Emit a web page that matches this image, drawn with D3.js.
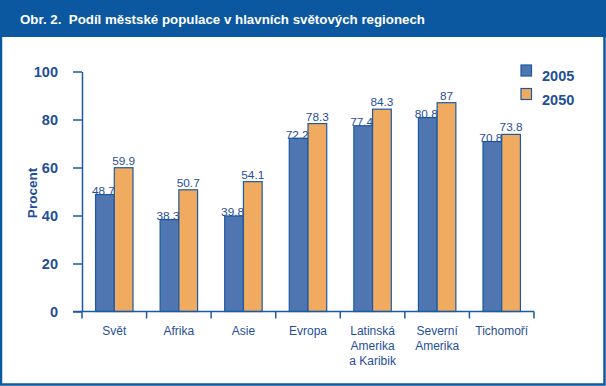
<!DOCTYPE html>
<meta charset="utf-8">
<title>Podíl městské populace</title>
<style>
html, body {
  margin: 0;
  padding: 0;
  width: 606px;
  height: 386px;
  background: #fff;
}
svg {
  display: block;
  font-family: "Liberation Sans", Arial, sans-serif;
}
.axis path, .axis line {
  stroke: #1b5aa0;
  stroke-width: 1.5;
}
.axis text {
  fill: #1f4e9a;
}
</style>
<body>
<svg width="606" height="386"></svg>
<script src="https://cdn.jsdelivr.net/npm/d3@7"></script>
<script>

var regions = ["Svět", "Afrika", "Asie", "Evropa", "Latinská|Amerika|a Karibik", "Severní|Amerika", "Tichomoří"];
var years = ["2005", "2050"];
var values2005 = [48.7, 38.3, 39.8, 72.2, 77.4, 80.8, 70.8];
var values2050 = [59.9, 50.7, 54.1, 78.3, 84.3, 87, 73.8];
var yTicks = [0, 20, 40, 60, 80, 100];

var colors = { "2005": "#4f76b0", "2050": "#f0ab60" };
var textBlue = "#1f4e9a";

var svg = d3.select("svg");

// frame + header band
svg.append("rect")
    .attr("x", 1).attr("y", 1)
    .attr("width", 603.5).attr("height", 383.5)
    .attr("fill", "none")
    .attr("stroke", "#0c58a0")
    .attr("stroke-width", 2.5);

svg.append("rect")
    .attr("x", 0).attr("y", 0)
    .attr("width", 606).attr("height", 37)
    .attr("fill", "#0c58a0");

svg.append("text")
    .attr("x", 20).attr("y", 24)
    .attr("fill", "#fff")
    .style("font-size", "13.3px")
    .style("font-weight", "bold")
    .style("white-space", "pre")
    .text("Obr. 2.  Podíl městské populace v hlavních světových regionech");

var plotLeft = 82, plotRight = 534, plotTop = 71.5, plotBottom = 311.5;

var x0 = d3.scaleBand()
    .domain(regions)
    .range([plotLeft, plotRight])
    .padding(0);

var x1 = d3.scaleBand()
    .domain(years)
    .range([x0.bandwidth() * 0.21, x0.bandwidth() * 0.79])
    .padding(0);

var y = d3.scaleLinear()
    .domain([0, 100])
    .range([plotBottom, plotTop]);

var rows = regions.map(function(r, i) {
  return { region: r, values: [
    { year: "2005", value: values2005[i] },
    { year: "2050", value: values2050[i] }
  ]};
});

// bars
var group = svg.append("g")
  .selectAll("g")
  .data(rows)
  .enter().append("g")
    .attr("transform", function(d) { return "translate(" + x0(d.region) + ",0)"; });

group.selectAll("rect")
  .data(function(d) { return d.values; })
  .enter().append("rect")
    .attr("x", function(d) { return x1(d.year); })
    .attr("y", function(d) { return y(d.value); })
    .attr("width", x1.bandwidth())
    .attr("height", function(d) { return y(0) - y(d.value); })
    .attr("fill", function(d) { return colors[d.year]; })
    .attr("stroke", "#1b5aa0")
    .attr("stroke-width", 1.2);

group.selectAll("text")
  .data(function(d) { return d.values; })
  .enter().append("text")
    .attr("x", function(d) { return x1(d.year) + x1.bandwidth() / 2 + (d.year == "2005" ? -1.5 : 0); })
    .attr("y", function(d) { return y(d.value) - (d.year == "2005" ? -0.5 : 3); })
    .attr("text-anchor", "middle")
    .attr("fill", textBlue)
    .style("font-size", "11.8px")
    .text(function(d) { return d.value; });

// y axis
var yAxis = svg.append("g")
    .attr("class", "axis")
    .attr("transform", "translate(" + plotLeft + ",0)")
    .call(d3.axisLeft(y).tickValues(yTicks).tickSize(9).tickSizeOuter(0).tickPadding(15));

yAxis.selectAll("text")
    .style("font-size", "14.5px")
    .style("font-weight", "bold")
    .attr("dy", "0.35em");

// x axis with boundary ticks
var xAxis = svg.append("g")
    .attr("class", "axis")
    .attr("transform", "translate(0," + plotBottom + ")");

xAxis.append("line")
    .attr("x1", plotLeft - 9).attr("x2", plotRight)
    .attr("y1", 0).attr("y2", 0);

var bounds = regions.map(function(r) { return x0(r); }).concat([plotRight]);
xAxis.selectAll("line.tick")
  .data(bounds)
  .enter().append("line")
    .attr("class", "tick")
    .attr("x1", function(d) { return d; })
    .attr("x2", function(d) { return d; })
    .attr("y1", 0).attr("y2", 7);

var labels = xAxis.selectAll("text.cat")
  .data(regions)
  .enter().append("text")
    .attr("class", "cat")
    .attr("text-anchor", "middle")
    .attr("fill", textBlue)
    .style("font-size", "12px")
    .attr("transform", function(d) { return "translate(" + (x0(d) + x0.bandwidth() / 2) + ",23)"; });

labels.selectAll("tspan")
  .data(function(d) { return d.split("|"); })
  .enter().append("tspan")
    .attr("x", 0)
    .attr("y", function(d, i) { return i * 15; })
    .text(function(d) { return d; });

// y title
svg.append("text")
    .attr("transform", "translate(37,193) rotate(-90)")
    .attr("text-anchor", "middle")
    .attr("fill", textBlue)
    .style("font-size", "13.5px")
    .style("font-weight", "bold")
    .text("Procent");

// legend
var legend = svg.append("g")
  .selectAll("g")
  .data(years)
  .enter().append("g")
    .attr("transform", function(d, i) { return "translate(521," + (65 + i * 23.5) + ")"; });

legend.append("rect")
    .attr("width", 10.5).attr("height", 11)
    .attr("fill", function(d) { return colors[d]; })
    .attr("stroke", "#1b5aa0")
    .attr("stroke-width", 1.2);

legend.append("text")
    .attr("x", 21).attr("y", 16)
    .attr("fill", textBlue)
    .style("font-size", "14.5px")
    .style("font-weight", "bold")
    .text(function(d) { return d; });

</script>
</body>
